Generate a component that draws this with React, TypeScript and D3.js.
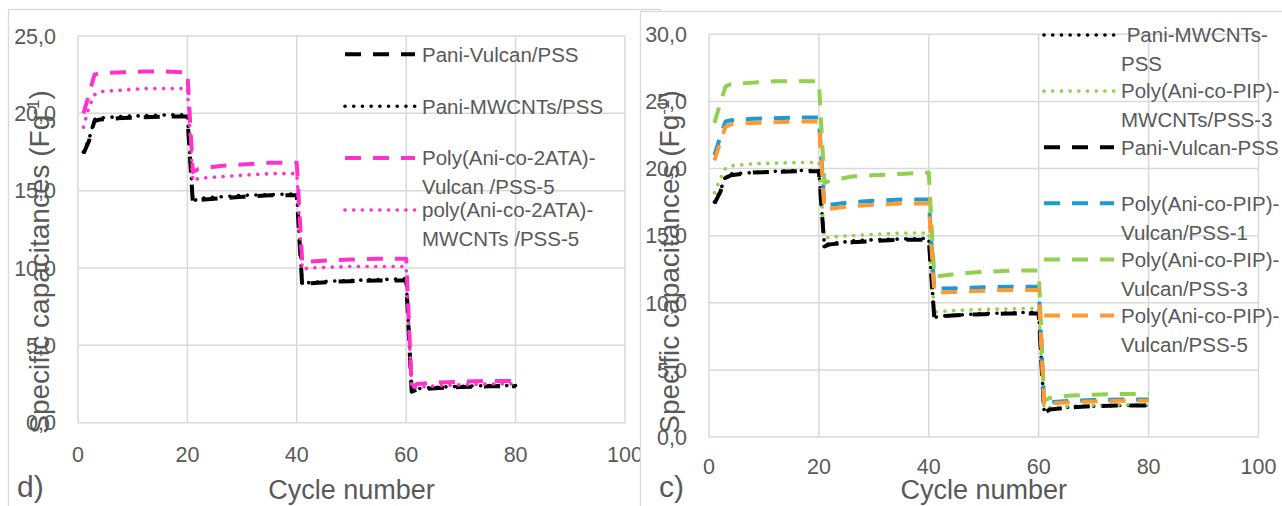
import { useEffect, useRef } from 'react';
import * as d3 from 'd3';

const cycles = [1, 2, 3, 4, 8, 12, 16, 20, 21, 22, 26, 30, 35, 40, 41, 42, 46, 50, 55, 60, 61, 62, 66, 70, 75, 80];

// panel d)
const paniVulcanD = [17.4, 18.2, 19.5, 19.6, 19.7, 19.75, 19.8, 19.8, 14.2, 14.4, 14.5, 14.6, 14.7, 14.7, 8.8, 9.0, 9.1, 9.15, 9.2, 9.2, 2.0, 2.15, 2.25, 2.3, 2.35, 2.35];
const paniMwcntD = [17.5, 18.3, 19.6, 19.7, 19.8, 19.85, 19.9, 19.9, 14.3, 14.5, 14.6, 14.7, 14.75, 14.8, 8.9, 9.05, 9.15, 9.2, 9.25, 9.3, 2.1, 2.2, 2.3, 2.35, 2.4, 2.4];
const ataVulcanD = [20.0, 21.2, 22.5, 22.6, 22.65, 22.7, 22.7, 22.65, 16.2, 16.4, 16.6, 16.7, 16.8, 16.8, 10.3, 10.4, 10.5, 10.55, 10.6, 10.6, 2.3, 2.5, 2.6, 2.65, 2.7, 2.7];
const ataMwcntD = [19.1, 20.4, 21.2, 21.4, 21.5, 21.6, 21.6, 21.6, 15.6, 15.8, 15.9, 16.0, 16.1, 16.1, 9.9, 10.0, 10.05, 10.1, 10.1, 10.1, 2.2, 2.3, 2.4, 2.45, 2.5, 2.5];

// panel c)
const paniMwcntC = [17.5, 18.3, 19.4, 19.6, 19.7, 19.8, 19.85, 19.85, 14.3, 14.4, 14.6, 14.7, 14.75, 14.8, 8.9, 9.0, 9.1, 9.2, 9.25, 9.3, 1.9, 2.1, 2.25, 2.3, 2.35, 2.35];
const pipMwcnt3C = [18.2, 19.2, 20.0, 20.2, 20.35, 20.4, 20.45, 20.45, 14.8, 14.9, 15.0, 15.1, 15.2, 15.2, 9.3, 9.35, 9.45, 9.5, 9.55, 9.6, 2.1, 2.2, 2.3, 2.35, 2.4, 2.4];
const paniVulcanC = [17.4, 18.2, 19.3, 19.5, 19.7, 19.75, 19.8, 19.8, 14.2, 14.35, 14.5, 14.6, 14.7, 14.7, 8.85, 9.0, 9.1, 9.15, 9.2, 9.2, 1.8, 2.05, 2.2, 2.3, 2.35, 2.35];
const pipVulcan1C = [21.0, 22.3, 23.5, 23.6, 23.7, 23.75, 23.8, 23.8, 17.2, 17.3, 17.5, 17.6, 17.7, 17.7, 11.0, 11.05, 11.1, 11.15, 11.2, 11.2, 2.4, 2.6, 2.7, 2.75, 2.8, 2.8];
const pipVulcan3C = [23.4, 24.8, 26.1, 26.3, 26.4, 26.5, 26.5, 26.5, 18.9, 19.1, 19.4, 19.5, 19.6, 19.7, 11.9, 12.0, 12.2, 12.3, 12.4, 12.4, 2.7, 2.9, 3.1, 3.15, 3.2, 3.2];
const pipVulcan5C = [20.6, 21.9, 23.1, 23.3, 23.4, 23.45, 23.5, 23.5, 16.9, 17.0, 17.2, 17.3, 17.4, 17.4, 10.7, 10.75, 10.85, 10.9, 10.95, 10.95, 2.3, 2.5, 2.6, 2.65, 2.7, 2.7];

const legendD = [['Pani-Vulcan/PSS'], ['Pani-MWCNTs/PSS'], ['Poly(Ani-co-2ATA)-', 'Vulcan /PSS-5'], ['poly(Ani-co-2ATA)-', 'MWCNTs /PSS-5']];
const legendC = [[' Pani-MWCNTs-', 'PSS'], ['Poly(Ani-co-PIP)-', 'MWCNTs/PSS-3'], ['Pani-Vulcan-PSS'], ['Poly(Ani-co-PIP)-', 'Vulcan/PSS-1'], ['Poly(Ani-co-PIP)-', 'Vulcan/PSS-3'], ['Poly(Ani-co-PIP)-', 'Vulcan/PSS-5']];

const xTicks = [0, 20, 40, 60, 80, 100];
const yTicksD = [0, 5, 10, 15, 20, 25];
const yTicksC = [0, 5, 10, 15, 20, 25, 30];

const FONT = "'Liberation Sans', Arial, sans-serif";
const TXT = '#595959';
const GRID = '#d9d9d9';

type Series = { values: number[]; label: string[]; color: string; kind: 'dash' | 'dot' };

interface Panel {
  frame: [number, number, number, number];
  plot: [number, number, number, number]; // left, right, top, bottom
  yTicks: number[];
  tag: string;
  tagX: number;
  yTitleX: number;
  xLabelGap: number;
  legX: number;
  legY: number;
  legStep: number;
  series: Series[];
}

const fmt = (v: number) => d3.format('.1f')(v).replace('.', ',');

function drawPanel(svg: d3.Selection<SVGSVGElement, unknown, null, undefined>, p: Panel) {
  const [fx, fy, fw, fh] = p.frame;
  const [pl, pr, pt, pb] = p.plot;
  const g = svg.append('g');
  g.append('rect').attr('x', fx).attr('y', fy).attr('width', fw).attr('height', fh)
    .attr('fill', '#fff').attr('stroke', GRID).attr('stroke-width', 1.3);

  const yMax = p.yTicks[p.yTicks.length - 1];
  const x = d3.scaleLinear().domain([0, 100]).range([pl, pr]);
  const y = d3.scaleLinear().domain([0, yMax]).range([pb, pt]);

  // grid
  xTicks.forEach((t) => {
    g.append('line').attr('x1', x(t)).attr('x2', x(t)).attr('y1', pt).attr('y2', pb)
      .attr('stroke', GRID).attr('stroke-width', 1.5);
  });
  p.yTicks.forEach((t) => {
    g.append('line').attr('x1', pl).attr('x2', pr).attr('y1', y(t)).attr('y2', y(t))
      .attr('stroke', GRID).attr('stroke-width', 1.5);
  });

  // tick labels
  p.yTicks.forEach((t) => {
    g.append('text').attr('x', pl - 22).attr('y', y(t)).attr('dy', '0.36em')
      .attr('text-anchor', 'end').attr('fill', TXT).attr('font-size', 21.5).attr('font-family', FONT)
      .text(fmt(t));
  });
  xTicks.forEach((t) => {
    g.append('text').attr('x', x(t)).attr('y', pb + p.xLabelGap).attr('text-anchor', 'middle')
      .attr('fill', TXT).attr('font-size', 21.5).attr('font-family', FONT).text(t);
  });

  // titles
  g.append('text').attr('x', (pl + pr) / 2).attr('y', 499).attr('text-anchor', 'middle')
    .attr('fill', TXT).attr('font-size', 27).attr('font-family', FONT).text('Cycle number');
  g.append('text').attr('x', p.tagX).attr('y', 497).attr('fill', TXT)
    .attr('font-size', 30).attr('font-family', FONT).text(p.tag);
  const yt = g.append('text').attr('transform', `translate(${p.yTitleX},262) rotate(-90)`)
    .attr('text-anchor', 'middle').attr('fill', TXT).attr('font-size', 28).attr('font-family', FONT);
  yt.append('tspan').text('Specific capacitances (Fg');
  yt.append('tspan').attr('font-size', 17).attr('dy', -10).text('-1');
  yt.append('tspan').attr('dy', 10).text(')');

  const line = d3.line<number>().x((_, i) => x(cycles[i])).y((v) => y(v));

  const stroke = (sel: d3.Selection<SVGPathElement, any, any, any>, s: Series) => {
    sel.attr('fill', 'none').attr('stroke', s.color).attr('stroke-linejoin', 'round');
    if (s.kind === 'dash') {
      sel.attr('stroke-width', 4).attr('stroke-dasharray', '16 12');
    } else {
      sel.attr('stroke-width', 3.6).attr('stroke-linecap', 'round').attr('stroke-dasharray', '0.1 8.6');
    }
  };

  p.series.forEach((s) => {
    g.append('path').attr('d', line(s.values)).call(stroke as any, s);
  });

  // legend
  p.series.forEach((s, i) => {
    const ly = p.legY + i * p.legStep;
    g.append('path').attr('d', `M${p.legX},${ly}H${p.legX + 70}`).call(stroke as any, s);
    s.label.forEach((ln, j) => {
      g.append('text').attr('x', p.legX + 77).attr('y', ly + j * 29).attr('dy', '0.36em')
        .attr('fill', TXT).attr('font-size', 20.5).attr('font-family', FONT)
        .style('white-space', 'pre').text(ln);
    });
  });
}

export default function App() {
  const ref = useRef<SVGSVGElement>(null);

  useEffect(() => {
    if (!ref.current) return;
    const svg = d3.select(ref.current);
    svg.selectAll('*').remove();
    svg.append('rect').attr('width', 1282).attr('height', 506).attr('fill', '#fff');

    drawPanel(svg, {
      frame: [8.5, 9.5, 652, 510],
      plot: [78, 625, 36, 422.7],
      yTicks: yTicksD,
      tag: 'd)',
      tagX: 17,
      yTitleX: 49,
      xLabelGap: 39,
      legX: 345,
      legY: 54.3,
      legStep: 51.9,
      series: [
        { values: paniVulcanD, label: legendD[0], color: '#000', kind: 'dash' },
        { values: paniMwcntD, label: legendD[1], color: '#000', kind: 'dot' },
        { values: ataVulcanD, label: legendD[2], color: '#ff33cc', kind: 'dash' },
        { values: ataMwcntD, label: legendD[3], color: '#ff33cc', kind: 'dot' },
      ],
    });

    drawPanel(svg, {
      frame: [640.5, 11.5, 700, 510],
      plot: [709, 1258.5, 34.3, 437],
      yTicks: yTicksC,
      tag: 'c)',
      tagX: 659,
      yTitleX: 679,
      xLabelGap: 37,
      legX: 1044,
      legY: 35,
      legStep: 56.1,
      series: [
        { values: paniMwcntC, label: legendC[0], color: '#000', kind: 'dot' },
        { values: pipMwcnt3C, label: legendC[1], color: '#92d050', kind: 'dot' },
        { values: paniVulcanC, label: legendC[2], color: '#000', kind: 'dash' },
        { values: pipVulcan1C, label: legendC[3], color: '#1a9bd7', kind: 'dash' },
        { values: pipVulcan3C, label: legendC[4], color: '#92d050', kind: 'dash' },
        { values: pipVulcan5C, label: legendC[5], color: '#ff9933', kind: 'dash' },
      ],
    });
  }, []);

  return (
    <svg
      ref={ref}
      width={1282}
      height={506}
      style={{ position: 'absolute', left: 0, top: 0, display: 'block' }}
    />
  );
}
